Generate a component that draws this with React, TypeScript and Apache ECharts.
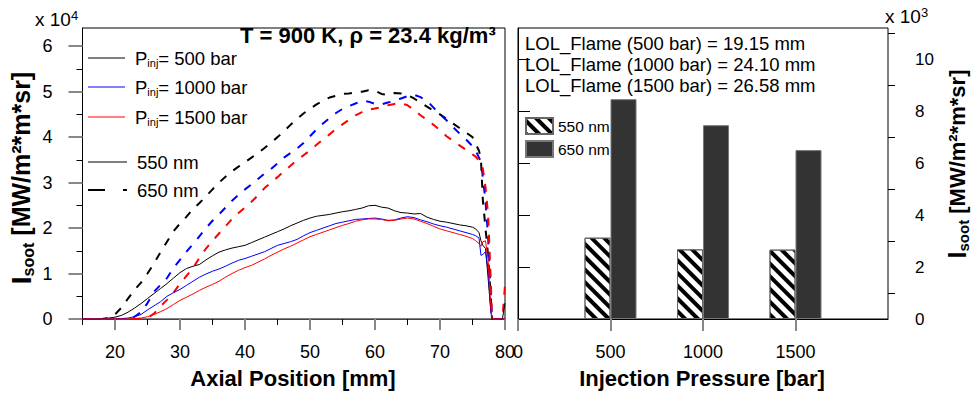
import { useEffect, useRef } from 'react';
import * as echarts from 'echarts';

const FONT = "'Liberation Sans', Arial, Helvetica, sans-serif";

// Axial positions [mm] shared by all curves
const axialPosition = [
  15, 16, 17, 18, 19, 20, 21, 22, 23, 24,
  25, 26, 27, 28, 29, 30, 31, 32, 33, 34,
  35, 36, 37, 38, 39, 40, 41, 42, 43, 44,
  45, 46, 47, 48, 49, 50, 51, 52, 53, 54,
  55, 56, 57, 58, 59, 60, 61, 62, 63, 64,
  65, 66, 67, 68, 69, 70, 71, 72, 73, 74,
  75, 75.5, 76, 76.3, 76.6, 77, 77.4, 77.8, 78, 79, 79.6, 80,
];

// 550 nm (solid), x 10^4
const soot550_500 = [
  0, 0, 0, 0.01, 0.02, 0.04, 0.08, 0.15, 0.24, 0.34,
  0.45, 0.56, 0.67, 0.78, 0.9, 1.02, 1.11, 1.16, 1.2, 1.3,
  1.39, 1.47, 1.52, 1.56, 1.59, 1.62, 1.68, 1.74, 1.8, 1.86,
  1.92, 1.98, 2.05, 2.11, 2.17, 2.22, 2.26, 2.28, 2.3, 2.33,
  2.36, 2.38, 2.41, 2.44, 2.49, 2.5, 2.46, 2.44, 2.38, 2.34,
  2.33, 2.31, 2.32, 2.24, 2.19, 2.15, 2.13, 2.1, 2.07, 2.05,
  2.02, 1.98, 1.9, 1.72, 1.62, 1.55, 0.9, 0.2, 0, 0, 0, 0.35,
];
const soot550_1000 = [
  0, 0, 0, 0, 0, 0, 0.01, 0.02, 0.05, 0.1,
  0.2, 0.29, 0.38, 0.5, 0.58, 0.65, 0.74, 0.83, 0.92, 0.99,
  1.05, 1.1, 1.16, 1.23, 1.29, 1.33, 1.38, 1.43, 1.48, 1.55,
  1.62, 1.66, 1.7, 1.75, 1.83, 1.9, 1.95, 2.0, 2.05, 2.1,
  2.13, 2.16, 2.19, 2.2, 2.21, 2.22, 2.2, 2.17, 2.18, 2.22,
  2.25, 2.23, 2.18, 2.14, 2.09, 2.05, 2.02, 1.98, 1.94, 1.9,
  1.86, 1.83, 1.78, 1.4, 1.42, 1.48, 1.1, 0.2, 0, 0, 0, 0,
];
const soot550_1500 = [
  0, 0, 0, 0, 0, 0, 0, 0, 0.01, 0.02,
  0.05, 0.1, 0.16, 0.23, 0.32, 0.41, 0.48, 0.55, 0.63, 0.7,
  0.76, 0.83, 0.92, 1.0, 1.07, 1.13, 1.18, 1.25, 1.32, 1.4,
  1.47, 1.54, 1.6, 1.67, 1.74, 1.81, 1.86, 1.91, 1.96, 2.01,
  2.06, 2.1, 2.15, 2.18, 2.2, 2.2, 2.19, 2.16, 2.17, 2.2,
  2.22, 2.2, 2.15, 2.1, 2.04, 1.98, 1.94, 1.9, 1.86, 1.82,
  1.77, 1.72, 1.66, 1.6, 1.7, 1.72, 1.3, 0.3, 0, 0, 0, 0,
];

// 650 nm (dashed), x 10^4
const soot650_500 = [
  0, 0, 0, 0, 0.02, 0.1, 0.25, 0.45, 0.64, 0.8,
  1.0, 1.22, 1.47, 1.7, 1.93, 2.1, 2.25, 2.42, 2.55, 2.7,
  2.85, 3.0, 3.13, 3.25, 3.35, 3.45, 3.55, 3.65, 3.76, 3.88,
  4.0, 4.13, 4.27, 4.4, 4.52, 4.62, 4.72, 4.8, 4.87, 4.91,
  4.95, 4.96, 4.98, 5.0, 5.03, 5.02, 4.95, 4.93, 4.97, 4.96,
  4.93, 4.85, 4.76, 4.67, 4.58, 4.5, 4.4, 4.3, 4.2, 4.1,
  4.0, 3.85, 3.7, 3.5, 2.6, 2.0, 1.4, 0.5, 0, 0, 0, 0,
];
const soot650_1000 = [
  0, 0, 0, 0, 0, 0, 0, 0, 0.05, 0.15,
  0.35, 0.6, 0.75, 0.9, 1.12, 1.3, 1.48, 1.65, 1.82, 2.0,
  2.16, 2.3, 2.45, 2.6, 2.73, 2.85, 2.96, 3.08, 3.2, 3.3,
  3.42, 3.55, 3.65, 3.75, 3.87, 4.02, 4.17, 4.3, 4.42, 4.53,
  4.62, 4.68, 4.74, 4.8, 4.78, 4.73, 4.72, 4.76, 4.8, 4.85,
  4.9, 4.93, 4.88, 4.8, 4.65, 4.5, 4.37, 4.22, 4.08, 3.95,
  3.8, 3.7, 3.55, 3.45, 3.1, 2.6, 1.8, 0.6, 0, 0, 0, 0,
];
const soot650_1500 = [
  0, 0, 0, 0, 0, 0, 0, 0, 0, 0,
  0.02, 0.12, 0.28, 0.42, 0.58, 0.78, 0.95, 1.12, 1.35, 1.55,
  1.72, 1.88, 2.04, 2.2, 2.33, 2.45, 2.58, 2.72, 2.88, 3.0,
  3.12, 3.25, 3.37, 3.5, 3.6, 3.71, 3.83, 3.95, 4.06, 4.18,
  4.28, 4.38, 4.48, 4.55, 4.6, 4.63, 4.66, 4.7, 4.73, 4.75,
  4.7, 4.6, 4.48, 4.38, 4.27, 4.15, 4.02, 3.92, 3.82, 3.72,
  3.62, 3.57, 3.48, 3.45, 3.3, 2.9, 2.3, 0.9, 0, 0, 0, 0.75,
];

// Bar chart: injection pressure [bar], x 10^3
const injectionPressures = [500, 1000, 1500];
const bar550 = [3.13, 2.68, 2.67];
const bar650 = [8.46, 7.46, 6.5];

// Tick values
const leftXMajor = [20, 30, 40, 50, 60, 70, 80];
const leftXMinor = [15, 25, 35, 45, 55, 65, 75];
const leftYMajor = [0, 1, 2, 3, 4, 5, 6];
const leftYMinor = [0.5, 1.5, 2.5, 3.5, 4.5, 5.5];
const rightXTicks = [0, 500, 1000, 1500];
const rightYMajor = [0, 2, 4, 6, 8, 10];
const rightYMinor = [1, 3, 5, 7, 9, 11];

const lolTexts = [
  'LOL_Flame (500 bar) = 19.15 mm',
  'LOL_Flame (1000 bar) = 24.10 mm',
  'LOL_Flame (1500 bar) = 26.58 mm',
];

const pairs = (ys: number[]) => axialPosition.map((x, i) => [x, ys[i]]);

function lineSeries(name: string, ys: number[], color: string, dashed: boolean) {
  return {
    name,
    type: 'line',
    xAxisIndex: 0,
    yAxisIndex: 0,
    data: pairs(ys),
    showSymbol: false,
    symbol: 'none',
    silent: true,
    lineStyle: dashed
      ? { color, width: 2, type: [8, 9] }
      : { color, width: 1 },
    z: dashed ? 3 : 4,
  };
}

function legendRow(y: number, color: string, label: string) {
  return [
    { type: 'line', shape: { x1: 88, y1: y, x2: 125, y2: y }, style: { stroke: color, lineWidth: 1 } },
    {
      type: 'text', x: 135, y,
      style: {
        text: `{p|P}{s|inj}{n|${label}}`,
        verticalAlign: 'middle',
        rich: {
          p: { fontSize: 18.5, fontFamily: FONT, fill: '#000' },
          s: { fontSize: 11, fontFamily: FONT, fill: '#000', verticalAlign: 'bottom', padding: [9, 0, 0, 0] },
          n: { fontSize: 18.5, fontFamily: FONT, fill: '#000' },
        },
      },
    },
  ];
}

export default function App() {
  const ref = useRef<HTMLDivElement>(null);
  useEffect(() => {
    const chart = echarts.init(ref.current!, null, { renderer: 'svg' });
    const tickLabel = { fontSize: 18, fontFamily: FONT, color: '#000' };
    const plain = (v: number) => String(v);
    const option: any = {
      animation: false,
      backgroundColor: '#fff',
      grid: [
        { left: 82.5, top: 28, width: 422.5, height: 291, show: true, borderColor: '#000', borderWidth: 1 },
        { left: 518, top: 28, width: 370, height: 291, show: true, borderColor: '#000', borderWidth: 1 },
      ],
      xAxis: [
        {
          gridIndex: 0, type: 'value', min: 15, max: 80, position: 'bottom',
          axisLine: { show: true, lineStyle: { color: '#444', width: 1 } },
          axisTick: { show: true, customValues: leftXMajor, length: 11, lineStyle: { color: '#888', width: 2 } },
          axisLabel: { ...tickLabel, customValues: leftXMajor, margin: 24, formatter: plain },
          splitLine: { show: false },
        },
        {
          gridIndex: 0, type: 'value', min: 15, max: 80, position: 'bottom',
          axisLine: { show: false },
          axisTick: { show: true, customValues: leftXMinor, length: 6, lineStyle: { color: '#000', width: 1 } },
          axisLabel: { show: false },
          splitLine: { show: false },
        },
        {
          gridIndex: 1, type: 'value', min: 0, max: 2000, position: 'bottom',
          axisLine: { show: true, lineStyle: { color: '#000', width: 1 } },
          axisTick: { show: true, customValues: rightXTicks, length: 12, lineStyle: { color: '#888', width: 2 } },
          axisLabel: { ...tickLabel, customValues: rightXTicks, margin: 24, formatter: plain },
          splitLine: { show: false },
        },
      ],
      yAxis: [
        {
          gridIndex: 0, type: 'value', min: 0, max: 6.4, position: 'left',
          axisLine: { show: true, lineStyle: { color: '#000', width: 1 } },
          axisTick: { show: true, customValues: leftYMajor, length: 14, lineStyle: { color: '#888', width: 2 } },
          axisLabel: { ...tickLabel, customValues: leftYMajor, margin: 30, formatter: plain },
          splitLine: { show: false },
        },
        {
          gridIndex: 0, type: 'value', min: 0, max: 6.4, position: 'left',
          axisLine: { show: false },
          axisTick: { show: true, customValues: leftYMinor, length: 6, lineStyle: { color: '#000', width: 1 } },
          axisLabel: { show: false },
          splitLine: { show: false },
        },
        {
          gridIndex: 1, type: 'value', min: 0, max: 11.2, position: 'right',
          axisLine: { show: true, lineStyle: { color: '#000', width: 1 } },
          axisTick: { show: true, customValues: rightYMajor, length: 12, lineStyle: { color: '#000', width: 1 } },
          axisLabel: { ...tickLabel, fontSize: 17, customValues: rightYMajor, margin: 27, formatter: plain },
          splitLine: { show: false },
        },
        {
          gridIndex: 1, type: 'value', min: 0, max: 11.2, position: 'right',
          axisLine: { show: false },
          axisTick: { show: true, customValues: rightYMinor, length: 7, lineStyle: { color: '#000', width: 1 } },
          axisLabel: { show: false },
          splitLine: { show: false },
        },
      ],
      legend: {
        data: ['550 nm', '650 nm'],
        orient: 'vertical',
        left: 520,
        top: 112,
        itemWidth: 27,
        itemHeight: 16,
        itemGap: 5,
        icon: 'rect',
        selectedMode: false,
        textStyle: { fontSize: 15.5, fontFamily: FONT, color: '#000' },
      },
      series: [
        lineSeries('650 nm, 500 bar', soot650_500, '#000000', true),
        lineSeries('650 nm, 1000 bar', soot650_1000, '#0000ff', true),
        lineSeries('650 nm, 1500 bar', soot650_1500, '#ff0000', true),
        lineSeries('550 nm, 500 bar', soot550_500, '#000000', false),
        lineSeries('550 nm, 1000 bar', soot550_1000, '#0000ff', false),
        lineSeries('550 nm, 1500 bar', soot550_1500, '#ff0000', false),
        {
          name: '550 nm',
          type: 'bar',
          xAxisIndex: 2,
          yAxisIndex: 2,
          barWidth: 26,
          barGap: '0%',
          data: injectionPressures.map((p, i) => [p, bar550[i]]),
          itemStyle: {
            color: '#ffffff',
            borderColor: '#666',
            borderWidth: 1,
            decal: {
              symbol: 'rect',
              symbolSize: 1,
              color: '#000',
              dashArrayX: [1, 0],
              dashArrayY: [4, 4.5],
              rotation: Math.PI / 4,
            },
          },
        },
        {
          name: '650 nm',
          type: 'bar',
          xAxisIndex: 2,
          yAxisIndex: 2,
          barWidth: 26,
          barGap: '0%',
          data: injectionPressures.map((p, i) => [p, bar650[i]]),
          itemStyle: { color: '#333333', borderColor: '#777', borderWidth: 1 },
        },
      ],
      graphic: [
        // title
        {
          type: 'text', x: 240, y: 35,
          style: { text: 'T = 900 K, ρ = 23.4 kg/m³', fontSize: 22, fontWeight: 'bold', fontFamily: FONT, fill: '#000', verticalAlign: 'middle' },
        },
        // multipliers
        {
          type: 'text', x: 35, y: 19,
          style: {
            text: '{a|x 10}{b|4}', verticalAlign: 'middle',
            rich: { a: { fontSize: 19, fontFamily: FONT, fill: '#000' }, b: { fontSize: 13, fontFamily: FONT, fill: '#000', verticalAlign: 'top', padding: [0, 0, 8, 0] } },
          },
        },
        {
          type: 'text', x: 885, y: 16,
          style: {
            text: '{a|x 10}{b|3}', verticalAlign: 'middle',
            rich: { a: { fontSize: 19, fontFamily: FONT, fill: '#000' }, b: { fontSize: 13, fontFamily: FONT, fill: '#000', verticalAlign: 'top', padding: [0, 0, 8, 0] } },
          },
        },
        // left legend
        ...legendRow(58, '#000000', '= 500 bar'),
        ...legendRow(87, '#0000ff', '= 1000 bar'),
        ...legendRow(117, '#ff0000', '= 1500 bar'),
        { type: 'line', shape: { x1: 88, y1: 162, x2: 127, y2: 162 }, style: { stroke: '#000', lineWidth: 1 } },
        { type: 'text', x: 137, y: 162, style: { text: '550 nm', fontSize: 18.5, fontFamily: FONT, fill: '#000', verticalAlign: 'middle' } },
        { type: 'line', shape: { x1: 88, y1: 190, x2: 127, y2: 190 }, style: { stroke: '#000', lineWidth: 2, lineDash: [17, 18] } },
        { type: 'text', x: 137, y: 190, style: { text: '650 nm', fontSize: 18.5, fontFamily: FONT, fill: '#000', verticalAlign: 'middle' } },
        // LOL texts
        ...lolTexts.map((t, i) => ({
          type: 'text', x: 525, y: 43 + i * 21,
          style: { text: t, fontSize: 18.5, fontFamily: FONT, fill: '#000', verticalAlign: 'middle' },
        })),
        // axis titles
        {
          type: 'text', x: 293, y: 378,
          style: { text: 'Axial Position [mm]', fontSize: 22, fontWeight: 'bold', fontFamily: FONT, fill: '#000', align: 'center', verticalAlign: 'middle' },
        },
        {
          type: 'text', x: 702, y: 378,
          style: { text: 'Injection Pressure [bar]', fontSize: 22, fontWeight: 'bold', fontFamily: FONT, fill: '#000', align: 'center', verticalAlign: 'middle' },
        },
        {
          type: 'text', x: 21, y: 178, rotation: Math.PI / 2,
          style: {
            text: '{a|I}{b|soot}{c| [MW/m²*m*sr]}', align: 'center', verticalAlign: 'middle',
            rich: {
              a: { fontSize: 28, fontWeight: 'bold', fontFamily: FONT, fill: '#000', lineHeight: 30 },
              b: { fontSize: 16, fontWeight: 'bold', fontFamily: FONT, fill: '#000', verticalAlign: 'bottom', lineHeight: 30, padding: [12, 0, 0, 0] },
              c: { fontSize: 25, fontWeight: 'bold', fontFamily: FONT, fill: '#000', lineHeight: 30 },
            },
          },
        },
        {
          type: 'text', x: 957, y: 164, rotation: Math.PI / 2,
          style: {
            text: '{a|I}{b|soot}{c| [MW/m²*m*sr]}', align: 'center', verticalAlign: 'middle',
            rich: {
              a: { fontSize: 25, fontWeight: 'bold', fontFamily: FONT, fill: '#000', lineHeight: 28 },
              b: { fontSize: 15, fontWeight: 'bold', fontFamily: FONT, fill: '#000', verticalAlign: 'bottom', lineHeight: 28, padding: [11, 0, 0, 0] },
              c: { fontSize: 22, fontWeight: 'bold', fontFamily: FONT, fill: '#000', lineHeight: 28 },
            },
          },
        },
      ],
    };
    chart.setOption(option);
    return () => chart.dispose();
  }, []);
  return <div ref={ref} style={{ position: 'absolute', left: 0, top: 0, width: 977, height: 395 }} />;
}
